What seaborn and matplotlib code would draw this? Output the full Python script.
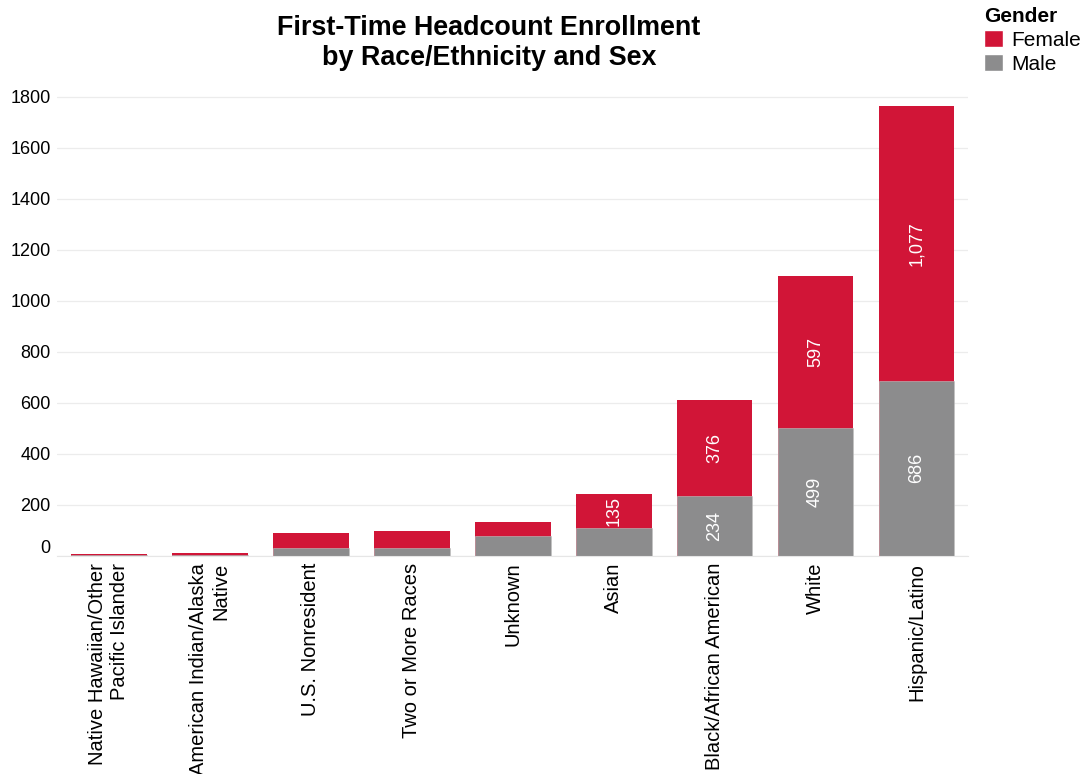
import numpy as np
import pandas as pd
import matplotlib
matplotlib.use("Agg")
import matplotlib.pyplot as plt
import matplotlib.transforms as mtransforms
from matplotlib.patches import Patch
import seaborn as sns

# data
categories = ["Native Hawaiian/Other\nPacific Islander", "American Indian/Alaska\nNative",
              "U.S. Nonresident", "Two or More Races", "Unknown", "Asian",
              "Black/African American", "White", "Hispanic/Latino"]
male = [1, 4, 32, 32, 76, 107, 234, 499, 686]
female = [4, 7, 57, 65, 57, 135, 376, 597, 1077]
yticks = [0, 200, 400, 600, 800, 1000, 1200, 1400, 1600, 1800]
# only these segments get a value label
label_female = [False, False, False, False, False, True, True, True, True]
label_male = [False, False, False, False, False, False, True, True, True]

red = "#D11537"
grey = "#8C8C8D"

sns.set_style("white")
plt.rcParams["font.family"] = ["Liberation Sans", "DejaVu Sans"]
plt.rcParams["text.color"] = "black"
plt.rcParams["xtick.color"] = "black"
plt.rcParams["ytick.color"] = "black"

df = pd.DataFrame({"cat": categories, "Male": male, "Female": female})
df["Total"] = df["Male"] + df["Female"]

fig = plt.figure(figsize=(10.84, 7.74), dpi=100)
ax = fig.add_axes([0.053, 0.282, 0.840, 0.608])

# stacked look: total in red, male drawn over it in grey
sns.barplot(data=df, x="cat", y="Total", color=red, width=0.75, ax=ax,
            saturation=1, linewidth=0)
sns.barplot(data=df, x="cat", y="Male", color=grey, width=0.75, ax=ax,
            saturation=1, edgecolor="#c0c0c0", linewidth=0.4)

for i in range(len(categories)):
    if label_male[i]:
        ax.text(i, male[i] / 2, f"{male[i]:,}", rotation=90, ha="center", va="center",
                color="white", fontsize=13)
    if label_female[i]:
        ax.text(i, male[i] + female[i] / 2, f"{female[i]:,}", rotation=90, ha="center",
                va="center", color="white", fontsize=13)

ax.set_xlim(-0.51, 8.51)
ax.set_ylim(0, 1845)
ax.set_yticks(yticks)
ax.set_yticklabels([str(v) for v in yticks], fontsize=13)
ax.yaxis.grid(True, color="#ececec", linewidth=0.9)
ax.set_axisbelow(True)
ax.tick_params(axis="y", length=0, pad=5)
# Tableau nudges the 0 label up a bit
lab0 = ax.get_yticklabels()[0]
lab0.set_transform(lab0.get_transform() + mtransforms.ScaledTranslation(0, 7 / 72, fig.dpi_scale_trans))

ax.set_xticks(range(len(categories)))
ax.set_xticklabels(categories, rotation=90, fontsize=14.5, ha="center", va="top",
                   multialignment="right")
ax.tick_params(axis="x", length=0, pad=5)
ax.set_xticks(np.arange(-0.5, 9, 1), minor=True)
ax.tick_params(axis="x", which="minor", length=6, color="#e6e6e6", width=0.8)

for s in ["top", "right", "left"]:
    ax.spines[s].set_visible(False)
ax.spines["bottom"].set_color("#e6e6e6")
ax.set_xlabel("")
ax.set_ylabel("")

fig.text(0.451, 0.981, "First-Time Headcount Enrollment\nby Race/Ethnicity and Sex",
         ha="center", va="top", fontsize=19.4, fontweight="bold", linespacing=1.2)

handles = [Patch(facecolor=red, label="Female"), Patch(facecolor=grey, label="Male")]
leg = fig.legend(handles=handles, title="Gender", loc="upper left",
                 bbox_to_anchor=(0.898, 1.005), frameon=False, fontsize=15,
                 title_fontproperties={"weight": "bold", "size": 15},
                 handlelength=0.9, handleheight=0.9, handletextpad=0.4,
                 labelspacing=0.2, borderaxespad=0.1)
leg._legend_box.align = "left"

fig.savefig("out.png", dpi=100)
